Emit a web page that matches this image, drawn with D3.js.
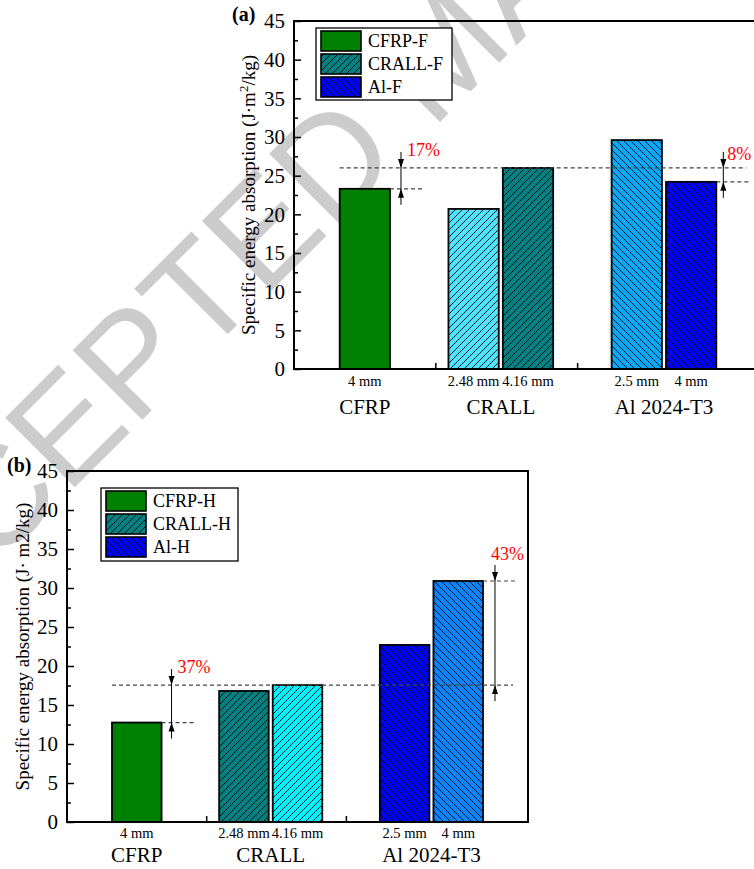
<!DOCTYPE html>
<html><head><meta charset="utf-8">
<script src="https://cdn.jsdelivr.net/npm/d3@7"></script>
<style>body{margin:0;background:#fff}svg{display:block}</style>
</head><body><svg id="c" width="754" height="869"></svg>
<script>
// ---------------- data ----------------
const categories = ["CFRP", "CRALL", "Al 2024-T3"];
const barCategory = ["CFRP", "CRALL", "CRALL", "Al 2024-T3", "Al 2024-T3"];
const barThickness = ["4 mm", "2.48 mm", "4.16 mm", "2.5 mm", "4 mm"];
const seaFlat = [23.3, 20.7, 26.0, 29.6, 24.2];      // panel (a)
const seaHemi = [12.75, 16.8, 17.55, 22.7, 30.9];   // panel (b)
const yTickValues = [0, 5, 10, 15, 20, 25, 30, 35, 40, 45];
const legendFlat = ["CFRP-F", "CRALL-F", "Al-F"];
const legendHemi = ["CFRP-H", "CRALL-H", "Al-H"];
const refBar = 2; // CRALL 4.16 mm as reference level
const annotFlat = [{bar: 0, text: "17%"}, {bar: 4, text: "8%"}];
const annotHemi = [{bar: 0, text: "37%"}, {bar: 4, text: "43%"}];

// ---------------- drawing ----------------
const svg = d3.select("#c");
const defs = svg.append("defs");
const FONT = "Liberation Serif, Times New Roman, serif";

function hatch(id, fill, dir) {
  const s = 7;
  const p = defs.append("pattern").attr("id", id).attr("patternUnits", "userSpaceOnUse")
    .attr("width", s).attr("height", s);
  p.append("rect").attr("width", s).attr("height", s).attr("fill", fill);
  const d = dir === "/"
    ? `M0,${s} L${s},0 M${-s/2},${s/2} L${s/2},${-s/2} M${s/2},${s*1.5} L${s*1.5},${s/2}`
    : `M0,0 L${s},${s} M${-s/2},${s/2} L${s/2},${s*1.5} M${s/2},${-s/2} L${s*1.5},${s/2}`;
  p.append("path").attr("d", d).attr("stroke", "#000").attr("stroke-width", 0.9).attr("fill", "none");
  return `url(#${id})`;
}

const GREEN = "#008000";
const fillsA = [GREEN, hatch("a1", "#4fe3ff", "/"), hatch("a2", "#008080", "/"),
                hatch("a3", "#0aa8f8", "\\"), hatch("a4", "#0000ff", "\\")];
const fillsB = [GREEN, hatch("b1", "#008080", "/"), hatch("b2", "#00f2ff", "/"),
                hatch("b3", "#0000ff", "\\"), hatch("b4", "#0a84ff", "\\")];
const legFillsA = [GREEN, hatch("la1", "#008080", "/"), hatch("la2", "#0000ff", "\\")];
const legFillsB = [GREEN, hatch("lb1", "#008080", "/"), hatch("lb2", "#0000ff", "\\")];

// watermark
svg.append("text").text("ACCEPTED MANUSCRIPT")
  .attr("transform", "translate(-147,709) rotate(-45)")
  .attr("font-family", "Liberation Sans, Arial, sans-serif").attr("font-size", 143)
  .attr("fill", "#cccccc");

function panel(cfg) {
  const g = svg.append("g").attr("font-family", FONT);
  const slots = [];
  categories.forEach((c, i) => {
    if (i > 0) slots.push("gap" + i);
    barCategory.forEach((bc, j) => { if (bc === c) slots.push("bar" + j); });
  });
  const x = d3.scaleBand().domain(slots).range([cfg.left, cfg.right])
    .paddingInner(0.075).paddingOuter(0.84);
  const bw = x.bandwidth();
  const y = d3.scaleLinear().domain([0, 45]).range([cfg.bottom, cfg.top]);
  const xs = d3.scaleLinear().domain([0, 3.3]).range([cfg.left, cfg.right]);

  // y axis major + minor (inward)
  const ax = g.append("g").attr("transform", `translate(${cfg.left},0)`)
    .call(d3.axisLeft(y).tickValues(yTickValues).tickSizeInner(-7).tickSizeOuter(0).tickPadding(9));
  ax.attr("font-family", FONT).attr("font-size", 21);
  ax.select(".domain").remove();
  ax.selectAll("line").attr("stroke", "#000").attr("stroke-width", 1.5);
  ax.selectAll("text").attr("fill", "#000");
  const axm = g.append("g").attr("transform", `translate(${cfg.left},0)`)
    .call(d3.axisLeft(y).tickValues(d3.range(2.5, 45, 5)).tickSizeInner(-4).tickSizeOuter(0).tickFormat(""));
  axm.select(".domain").remove();
  axm.selectAll("line").attr("stroke", "#000").attr("stroke-width", 1.5);

  // bars
  g.selectAll("rect.bar").data(cfg.values).join("rect").attr("class", "bar")
    .attr("x", (d, i) => x("bar" + i)).attr("width", bw)
    .attr("y", d => y(d)).attr("height", d => y(0) - y(d))
    .attr("fill", (d, i) => cfg.fills[i]).attr("stroke", "#000").attr("stroke-width", 1.8);

  // frame
  const fr = g.append("g").attr("stroke", "#000").attr("stroke-width", 2).attr("fill", "none");
  fr.append("path").attr("d",
    `M${cfg.left},${cfg.top} L${cfg.left},${cfg.bottom} L${cfg.right},${cfg.bottom} L${cfg.right},${cfg.top} Z`);
  // separator ticks on x axis
  g.selectAll("line.sep").data([1, 2]).join("line").attr("class", "sep")
    .attr("x1", d => xs(d)).attr("x2", d => xs(d))
    .attr("y1", cfg.bottom).attr("y2", cfg.bottom - 6).attr("stroke", "#000").attr("stroke-width", 1.5);

  // x labels
  g.selectAll("text.th").data(barThickness).join("text").attr("class", "th")
    .attr("x", (d, i) => x("bar" + i) + bw / 2).attr("y", cfg.bottom + cfg.thY)
    .attr("text-anchor", "middle").attr("font-size", 14.5).text(d => d);
  g.selectAll("text.cat").data(categories).join("text").attr("class", "cat")
    .attr("x", c => d3.mean(barCategory.map((bc, j) => bc === c ? x("bar" + j) + bw / 2 : null).filter(v => v !== null)))
    .attr("y", cfg.bottom + cfg.catY)
    .attr("text-anchor", "middle").attr("font-size", 21).text(d => d);

  // reference dashed line
  const last = cfg.values.length - 1;
  const dash = {stroke: "#444", "stroke-width": 1.2, "stroke-dasharray": "4,3"};
  const refLine = g.append("line")
    .attr("x1", x("bar0")).attr("x2", x("bar" + last) + bw + 30)
    .attr("y1", y(cfg.values[refBar])).attr("y2", y(cfg.values[refBar]));
  Object.entries(dash).forEach(([k, v]) => refLine.attr(k, v));

  // annotations
  cfg.annots.forEach((a, k) => {
    const st = cfg.annotStyle[k];
    const vb = cfg.values[a.bar], vr = cfg.values[refBar];
    const hi = Math.max(vb, vr), lo = Math.min(vb, vr);
    const xr = x("bar" + a.bar) + bw;
    const xa = xr + st.gap;
    const sl = g.append("line").attr("x1", xr).attr("x2", xr + 32).attr("y1", y(vb)).attr("y2", y(vb));
    Object.entries(dash).forEach(([kk, v]) => sl.attr(kk, v));
    g.append("line").attr("x1", xa).attr("x2", xa).attr("y1", y(hi) - 16).attr("y2", y(lo) + 16)
      .attr("stroke", "#000").attr("stroke-width", 1);
    g.append("path").attr("d", `M${xa},${y(hi)} L${xa - 3},${y(hi) - 9} L${xa + 3},${y(hi) - 9} Z`).attr("fill", "#000");
    g.append("path").attr("d", `M${xa},${y(lo)} L${xa - 3},${y(lo) + 9} L${xa + 3},${y(lo) + 9} Z`).attr("fill", "#000");
    g.append("text").attr("x", xa + st.dx).attr("y", y(hi) + st.dy)
      .attr("font-size", 18).attr("fill", "#ff0000").text(a.text);
  });

  // legend
  const L = cfg.legend;
  const lg = g.append("g");
  lg.append("rect").attr("x", L.x).attr("y", L.y).attr("width", L.w).attr("height", L.h)
    .attr("fill", "#fff").attr("stroke", "#000").attr("stroke-width", 1.3);
  lg.selectAll("rect.sw").data(cfg.legendLabels).join("rect").attr("class", "sw")
    .attr("x", L.x + 5).attr("y", (d, i) => L.y + 3 + i * 23).attr("width", 40).attr("height", 20)
    .attr("fill", (d, i) => cfg.legendFills[i]).attr("stroke", "#000").attr("stroke-width", 1.6);
  lg.selectAll("text").data(cfg.legendLabels).join("text")
    .attr("x", L.x + 52).attr("y", (d, i) => L.y + 13 + i * 23).attr("dy", "0.35em")
    .attr("font-size", 18).text(d => d);

  // panel label
  g.append("text").attr("x", cfg.labelX).attr("y", cfg.labelY)
    .attr("font-weight", "bold").attr("font-size", 20).text(cfg.label);

  // y title
  const t = g.append("text").attr("transform", `translate(${cfg.titleX},${(cfg.top + cfg.bottom) / 2}) rotate(-90)`)
    .attr("text-anchor", "middle").attr("font-size", 19);
  if (cfg.sup) {
    t.append("tspan").text("Specific energy absorption (J·m");
    t.append("tspan").attr("dy", -7).attr("font-size", 13).text("2");
    t.append("tspan").attr("dy", 7).text("/kg)");
  } else {
    t.text("Specific energy absorption (J· m2/kg)");
  }
}

panel({
  left: 294, right: 762, top: 21, bottom: 369, values: seaFlat, fills: fillsA,
  thY: 17, catY: 45,
  legend: {x: 316, y: 28, w: 136, h: 72}, legendLabels: legendFlat, legendFills: legFillsA,
  annots: annotFlat, annotStyle: [{gap: 11, dx: 6, dy: -12}, {gap: 7, dx: 4, dy: -8}],
  label: "(a)", labelX: 232, labelY: 21, titleX: 255, sup: true
});
panel({
  left: 67, right: 528, top: 471, bottom: 822, values: seaHemi, fills: fillsB,
  thY: 16, catY: 40,
  legend: {x: 101, y: 488, w: 137, h: 73}, legendLabels: legendHemi, legendFills: legFillsB,
  annots: annotHemi, annotStyle: [{gap: 10, dx: 6, dy: -12}, {gap: 12, dx: -4, dy: -21}],
  label: "(b)", labelX: 7, labelY: 472, titleX: 29, sup: false
});
</script></body></html>
